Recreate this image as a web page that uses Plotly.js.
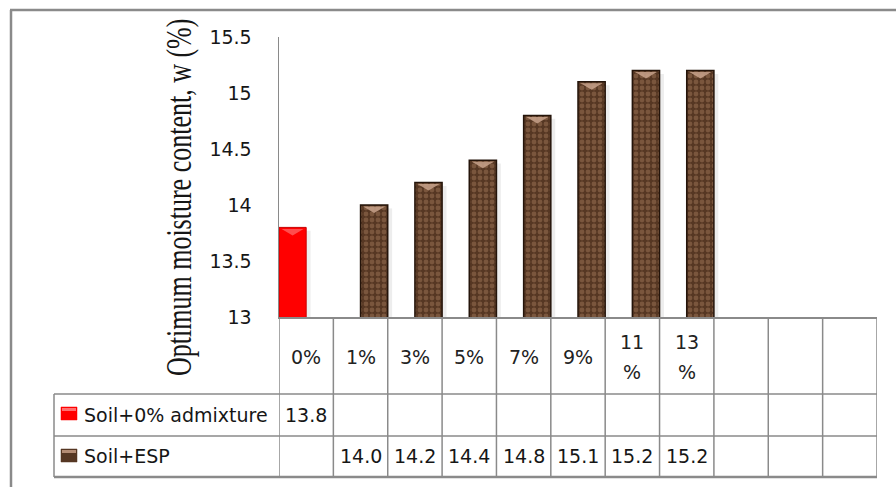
<!DOCTYPE html>
<html>
<head>
<meta charset="utf-8">
<script src="https://cdn.plot.ly/plotly-3.0.1.min.js"></script>
<style>
  html, body { margin: 0; padding: 0; background: #ffffff; }
  #chart { width: 896px; height: 487px; }
</style>
</head>
<body>
<div id="chart"></div>
<script>
// Optimum moisture content of soil with eggshell powder (ESP) admixture
const categories = ['0%', '1%', '3%', '5%', '7%', '9%', '11%', '13%', '', '', ''];
const soilPlain  = [13.8, null, null, null, null, null, null, null, null, null, null];
const soilEsp    = [null, 14.0, 14.2, 14.4, 14.8, 15.1, 15.2, 15.2, null, null, null];
const seriesNames = ['Soil+0% admixture', 'Soil+ESP'];
const yTicks = [13, 13.5, 14, 14.5, 15, 15.5];
const yTitle = 'Optimum moisture content, w (%)';

// page geometry
const W = 896, H = 487;
const M = { l: 279, r: 19, t: 37, b: 170 };
const PW = W - M.l - M.r;
const PH = H - M.t - M.b;
const px = X => (X - M.l) / PW;          // page pixel -> paper x
const py = Y => (M.t + PH - Y) / PH;     // page pixel -> paper y

const GRID = '#8a8a8a';
const TEXT = '#161616';
const SANS = 'DejaVu Sans, Verdana, sans-serif';
const RED = '#ff0000';
const BROWN = '#563723';

const idx = categories.map((_, i) => i);

const traces = [
  {
    type: 'bar', name: seriesNames[0], x: idx, y: soilPlain,
    marker: { color: RED, line: { color: '#c80000', width: 1 } },
    hoverinfo: 'skip'
  },
  {
    type: 'bar', name: seriesNames[1], x: idx, y: soilEsp,
    marker: {
      color: BROWN,
      line: { color: '#24140a', width: 1.5 },
      pattern: { shape: '.', fgcolor: '#7a563d', bgcolor: BROWN, size: 6, solidity: 0.5 }
    },
    hoverinfo: 'skip'
  }
];

const shapes = [];
const annotations = [];

// bar decoration: soft shadow on the right and a light bevel on top
function decorate(values, offset, bevelColor) {
  values.forEach((v, i) => {
    if (v === null) return;
    const xc = i + offset;
    shapes.push({
      type: 'rect', layer: 'below', xref: 'x', yref: 'y',
      xsizemode: 'pixel', xanchor: xc, x0: 13.5, x1: 18,
      y0: yTicks[0], y1: v - 0.03,
      fillcolor: 'rgba(0,0,0,0.07)', line: { width: 0 }
    });
    shapes.push({
      type: 'path', xref: 'x', yref: 'y',
      xsizemode: 'pixel', ysizemode: 'pixel', xanchor: xc, yanchor: v,
      path: 'M-11,-1.5 L11,-1.5 L0,-8 Z',
      fillcolor: bevelColor, line: { width: 0 }, opacity: 0.85
    });
  });
}
decorate(soilPlain, -0.25, '#ff5a5a');
decorate(soilEsp, 0.25, '#c9a38c');

// data table below the plot
const rowTop = py(M.t + PH), rowCat = py(394), rowA = py(436), rowB = py(477);
const legendLeft = px(54);
for (let k = 0; k <= categories.length; k++) {
  shapes.push({ type: 'line', xref: 'x', yref: 'paper', x0: k - 0.5, x1: k - 0.5,
    y0: rowTop, y1: rowB, line: { color: GRID, width: 1.5 } });
}
shapes.push({ type: 'line', xref: 'paper', yref: 'paper', x0: legendLeft, x1: legendLeft,
  y0: rowCat, y1: rowB, line: { color: GRID, width: 1.5 } });
[rowCat, rowA].forEach(y => shapes.push({ type: 'line', xref: 'paper', yref: 'paper',
  x0: legendLeft, x1: 1, y0: y, y1: y, line: { color: GRID, width: 1.5 } }));
shapes.push({ type: 'line', xref: 'paper', yref: 'paper', x0: legendLeft, x1: 1,
  y0: rowB, y1: rowB, line: { color: GRID, width: 2.5 } });

// chart frame
shapes.push({ type: 'line', xref: 'paper', yref: 'paper', x0: px(11), x1: px(11),
  y0: py(H + 5), y1: py(10), line: { color: GRID, width: 2.5 } });
shapes.push({ type: 'line', xref: 'paper', yref: 'paper', x0: px(10), x1: px(W + 5),
  y0: py(10), y1: py(10), line: { color: GRID, width: 2.5 } });

// category labels (two-digit percentages wrap onto two lines)
categories.forEach((c, i) => {
  if (!c) return;
  const font = { family: SANS, size: 19, color: '#222' };
  if (c.length > 2) {
    annotations.push({ xref: 'x', yref: 'paper', x: i, y: py(342), text: c.slice(0, -1),
      showarrow: false, font, xanchor: 'center', yanchor: 'middle' });
    annotations.push({ xref: 'x', yref: 'paper', x: i, y: py(372), text: c.slice(-1),
      showarrow: false, font, xanchor: 'center', yanchor: 'middle' });
  } else {
    annotations.push({ xref: 'x', yref: 'paper', x: i, y: py(357), text: c,
      showarrow: false, font, xanchor: 'center', yanchor: 'middle' });
  }
});

// table values and legend keys
const rows = [
  { values: soilPlain, name: seriesNames[0], y: py(415), key: [407, 420], color: RED, top: '#ff7070' },
  { values: soilEsp, name: seriesNames[1], y: py(456), key: [449, 462], color: BROWN, top: '#b48c74' }
];
rows.forEach(r => {
  r.values.forEach((v, i) => {
    if (v === null) return;
    annotations.push({ xref: 'x', yref: 'paper', x: i, y: r.y, text: v.toFixed(1),
      showarrow: false, font: { family: SANS, size: 19, color: TEXT },
      xanchor: 'center', yanchor: 'middle' });
  });
  annotations.push({ xref: 'paper', yref: 'paper', x: px(82), y: r.y, text: r.name,
    showarrow: false, font: { family: SANS, size: 19, color: TEXT },
    xanchor: 'left', yanchor: 'middle' });
  shapes.push({ type: 'rect', xref: 'paper', yref: 'paper', x0: px(61), x1: px(77),
    y0: py(r.key[0]), y1: py(r.key[1]), fillcolor: r.color, line: { color: r.color, width: 0.5 } });
  shapes.push({ type: 'rect', xref: 'paper', yref: 'paper', x0: px(62), x1: px(76),
    y0: py(r.key[0] + 1), y1: py(r.key[0] + 4), fillcolor: r.top, line: { width: 0 } });
});

// vertical axis title
const titleIndex = annotations.length;
annotations.push({ xref: 'paper', yref: 'paper', x: px(179), y: py(198), text: yTitle,
  textangle: -90, showarrow: false,
  font: { family: 'Liberation Serif, Times New Roman, serif', size: 26, color: TEXT },
  xanchor: 'center', yanchor: 'middle' });

const layout = {
  width: W, height: H,
  margin: M,
  paper_bgcolor: '#ffffff', plot_bgcolor: '#ffffff',
  showlegend: false,
  barmode: 'group', bargap: 0, bargroupgap: 0,
  xaxis: {
    range: [-0.5, categories.length - 0.5],
    showline: true, linecolor: GRID, linewidth: 1.5,
    showticklabels: false, ticks: '', showgrid: false, zeroline: false, fixedrange: true
  },
  yaxis: {
    range: [yTicks[0], yTicks[yTicks.length - 1]],
    tickvals: yTicks, ticktext: yTicks.map(String),
    showline: true, linecolor: GRID, linewidth: 1.5,
    ticks: '', ticklabelstandoff: 22, showgrid: false, zeroline: false,
    tickfont: { family: SANS, size: 19, color: TEXT }, fixedrange: true
  },
  shapes, annotations
};

Plotly.newPlot('chart', traces, layout, { staticPlot: true, displayModeBar: false }).then(gd => {
  // the axis title is set in a tall, condensed-looking face: widen its glyphs across the line
  const g = gd.querySelector('.annotation[data-index="' + titleIndex + '"] .annotation-text-g');
  if (!g) return;
  const box = g.getBoundingClientRect();
  const host = gd.getBoundingClientRect();
  const cx = box.left - host.left + box.width / 2;
  const prev = g.getAttribute('transform') || '';
  g.setAttribute('transform',
    'translate(' + cx + ',0) scale(1.4,1) translate(' + (-cx) + ',0) ' + prev);
});
</script>
</body>
</html>
